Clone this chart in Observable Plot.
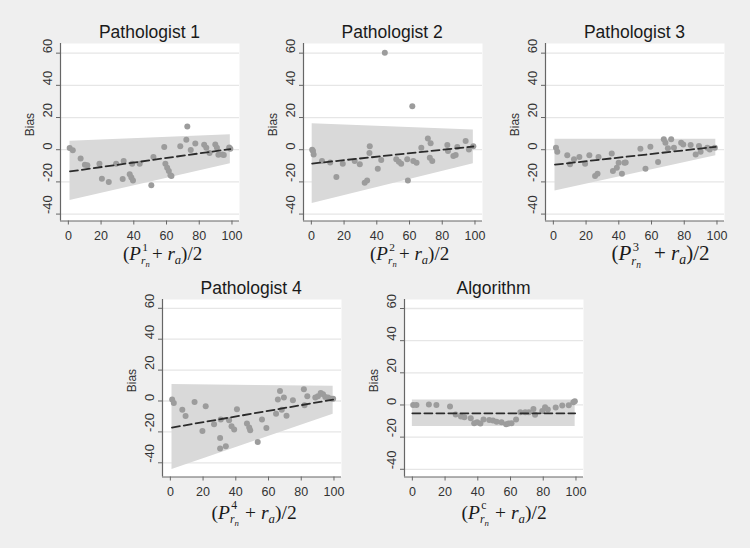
<!DOCTYPE html>
<html>
<head>
<meta charset="utf-8">
<script src="https://cdn.jsdelivr.net/npm/d3@7"></script>
<script src="https://cdn.jsdelivr.net/npm/@observablehq/plot@0.6"></script>
<style>
  html, body { margin: 0; padding: 0; background: #efefef; }
  #root { position: relative; width: 750px; height: 548px; background: #efefef; overflow: hidden; font-family: "Liberation Sans", Arial, sans-serif; }
  .panel { position: absolute; }
  .title { position: absolute; font-size: 17.5px; color: #1a1a1a; white-space: nowrap; transform: translate(-50%, -50%); }
  .xlab { position: absolute; font-family: "Liberation Serif", "DejaVu Serif", serif; color: #1a1a1a; white-space: nowrap; line-height: 1; }
  .xlab i { font-style: italic; }
  .ss { display: inline-block; position: relative; width: 0.58em; height: 0; vertical-align: baseline; }
  .ss .up { position: absolute; left: 0.12em; top: -1.304em; font-size: 0.6em; line-height: 0.5; }
  .ss .dn { position: absolute; left: 0; top: -0.171em; font-size: 0.6em; line-height: 0.5; }
  .ss .dn .n { font-size: 0.75em; vertical-align: -0.3em; }
  .sa { font-size: 0.66em; vertical-align: -0.28em; line-height: 0.5; }
</style>
</head>
<body>
<div id="root"></div>
<script>
// ---- Data ----
const titles = ["Pathologist 1", "Pathologist 2", "Pathologist 3", "Pathologist 4", "Algorithm"];
const superscripts = ["1", "2", "3", "4", "c"];
const xTicks = [0, 20, 40, 60, 80, 100];
const yTicks = [-40, -20, 0, 20, 40, 60];

const p1x = [0.8, 2.7, 7.5, 10.1, 11.6, 19.0, 20.5, 24.7, 29.2, 33.2, 33.8, 37.5, 38.5, 39.5, 39.0, 43.6, 50.7, 52.0, 58.6, 59.3, 60.4, 61.4, 62.4, 63.0, 68.4, 72.1, 72.7, 74.8, 77.6, 83.0, 84.3, 86.3, 89.8, 90.8, 91.7, 94.0, 95.0, 98.3, 99.0];
const p1y = [1.0, -0.3, -5.5, -9.3, -9.6, -8.7, -18.0, -20.0, -8.8, -18.2, -7.0, -15.2, -17.3, -19.2, -8.7, -8.7, -22.1, -4.6, 1.7, -8.7, -11.2, -13.3, -15.8, -16.4, 2.1, 6.2, 14.5, -0.2, 3.8, 3.1, 1.2, -2.0, 3.3, 1.2, -3.1, -2.9, -3.3, 1.4, 0.6];
const p2x = [0.5, 1.0, 1.4, 6.5, 11.5, 15.3, 19.2, 26.5, 29.6, 32.6, 34.1, 35.5, 35.7, 40.6, 42.7, 44.9, 51.9, 53.5, 54.9, 58.6, 59.0, 61.7, 62.3, 64.3, 67.2, 71.2, 72.4, 72.9, 73.9, 83.1, 83.5, 86.8, 88.2, 89.2, 94.3, 96.3, 99.0];
const p2y = [0.0, -0.8, -2.9, -7.0, -8.0, -17.0, -8.7, -7.0, -9.1, -20.5, -19.1, -2.1, 2.1, -11.8, -6.4, 60.2, -6.0, -7.5, -8.7, -6.0, -19.1, 27.0, -7.0, -8.1, 1.2, 6.9, -5.0, 4.0, -7.0, 2.9, -0.8, -3.9, -3.3, 1.7, 5.4, 0.2, 2.1];
const p3x = [1.6, 2.4, 8.5, 10.2, 12.6, 15.9, 19.4, 22.0, 25.5, 27.0, 27.6, 35.7, 36.4, 38.8, 39.9, 41.9, 43.4, 44.2, 53.2, 56.3, 59.3, 64.0, 67.5, 68.5, 70.0, 72.0, 73.7, 78.1, 79.4, 83.9, 87.0, 89.0, 90.0, 94.1, 95.6, 98.7];
const p3y = [1.2, -1.2, -3.5, -9.1, -6.0, -4.5, -8.7, -3.5, -16.4, -15.0, -4.5, -2.3, -13.3, -11.2, -8.1, -15.0, -8.1, -7.9, 0.6, -11.8, 1.9, -7.7, 6.5, 4.4, 0.9, 6.5, 1.2, 4.4, 3.3, 2.9, -2.9, 2.3, -1.2, 1.2, 0.2, 1.2];
const p4x = [1.1, 2.1, 7.3, 9.3, 14.8, 19.6, 21.6, 26.7, 30.4, 30.4, 30.8, 33.9, 35.9, 37.4, 39.0, 40.7, 46.8, 48.2, 48.8, 53.4, 56.0, 58.7, 64.6, 65.7, 67.0, 68.1, 69.4, 71.0, 74.9, 81.6, 82.0, 83.7, 88.6, 90.2, 91.9, 93.3, 94.7, 96.4, 98.4, 99.5];
const p4y = [0.9, -1.3, -5.6, -9.7, -0.6, -19.4, -3.4, -15.0, -23.9, -30.8, -12.0, -29.3, -12.5, -16.4, -18.5, -5.4, -14.6, -17.2, -19.0, -26.6, -12.0, -17.5, -8.2, 0.9, 6.5, -5.6, 2.2, -9.5, 0.5, 7.6, -2.8, 3.0, 2.2, 3.0, 5.2, 4.3, 2.6, 2.2, 1.5, 1.5];
const p5x = [0.5, 2.5, 10.1, 14.7, 23.0, 26.5, 29.7, 31.8, 35.7, 37.8, 39.6, 41.6, 43.5, 47.0, 49.3, 51.5, 54.5, 57.3, 58.8, 60.6, 63.4, 66.0, 69.0, 71.2, 74.0, 75.0, 79.4, 81.1, 82.8, 87.6, 91.6, 95.6, 98.4, 99.3];
const p5y = [0.0, 0.0, 0.3, 0.0, -1.0, -5.9, -7.1, -7.6, -8.2, -11.4, -10.8, -11.6, -9.0, -9.3, -9.7, -10.5, -10.8, -12.0, -11.6, -11.4, -9.0, -4.5, -4.6, -4.6, -2.5, -6.1, -3.7, -1.4, -2.8, -1.5, -0.4, -0.2, 1.7, 2.3];

// Limits of agreement band and fitted (dashed) line, at the two ends of the data range
const bandX  = [[1, 99], [0.5, 99], [1, 99.3], [1, 99.5], [0, 99.5]];
const bandLo = [[-31.5, -8.8], [-33.4, -8.7], [-25.7, -3.7], [-44.4, -8.6], [-13.4, -13.4]];
const bandHi = [[5.3, 9.3], [16.2, 12.2], [6.5, 6.5], [10.6, 9.5], [3.1, 3.1]];
const fitY   = [[-13.5, 0.4], [-8.6, 2.0], [-9.3, 1.8], [-17.2, 0.9], [-5.2, -5.2]];

const xs = [p1x, p2x, p3x, p4x, p5x];
const ys = [p1y, p2y, p3y, p4y, p5y];

// ---- Layout ----
const yDomains = [[-44.3, 66], [-44.3, 66], [-44.3, 66], [-49.2, 65.7], [-44.8, 65.6]];
const frameLeft = [60, 302.7, 545, 161.7, 404];
const frameTop = [43, 43, 43, 299.3, 299.3];
const frameW = 179, frameH = 177.5;
const mL = 45, mR = 6, mT = 6, mB = 28;
const labelLeft = [123, 370, 611.5, 211.5, 461.5];
const labelBase = [260, 260, 261, 519, 519];
const labelSize = [19, 19, 21, 19.5, 19.5];
const labelSpacing = ["", "", "&ensp;", "&thinsp;", "&thinsp;"];

const root = document.getElementById("root");

for (let i = 0; i < 5; i++) {
  const pts = xs[i].map((x, j) => ({x, y: ys[i][j]}));
  const band = bandX[i].map((x, j) => ({x, lo: bandLo[i][j], hi: bandHi[i][j], fit: fitY[i][j]}));
  const yd = yDomains[i];
  const chart = Plot.plot({
    width: mL + frameW + mR,
    height: mT + frameH + mB,
    marginLeft: mL, marginRight: mR, marginTop: mT, marginBottom: mB,
    x: {domain: [-4.8, 104.6]},
    y: {domain: yd},
    style: {background: "transparent", overflow: "visible", fontFamily: "Liberation Sans, Arial, sans-serif", color: "#333"},
    marks: [
      Plot.frame({fill: "white", stroke: null}),
      Plot.gridY(yTicks, {stroke: "#e6e6e6", strokeOpacity: 1, strokeWidth: 1.3}),
      Plot.areaY(band, {x: "x", y1: "lo", y2: "hi", fill: "#d9d9d9"}),
      Plot.dot(pts, {x: "x", y: "y", r: 3, fill: "#9c9c9c", stroke: null}),
      Plot.line(band, {x: "x", y: "fit", stroke: "#2b2b2b", strokeWidth: 1.8, strokeDasharray: "8,4"}),
      Plot.ruleX([-4.8], {stroke: "#666", strokeWidth: 1.2}),
      Plot.ruleY([yd[0]], {stroke: "#666", strokeWidth: 1.2}),
      Plot.axisX({ticks: xTicks, tickSize: 4, tickPadding: 6, fontSize: 12.5, label: null, stroke: "#666"}),
      Plot.axisY({ticks: yTicks, tickSize: 4, tickFormat: () => "", label: null, stroke: "#666"}),
      Plot.text(yTicks, {y: d => d, text: d => String(d), frameAnchor: "left", dx: -12.5, rotate: -90, fontSize: 13, fill: "#333"}),
      Plot.text(["Bias"], {frameAnchor: "left", dx: -30, dy: 4, rotate: -90, fontSize: 12, fill: "#333"})
    ]
  });
  chart.classList.add("panel");
  chart.style.left = (frameLeft[i] - mL) + "px";
  chart.style.top = (frameTop[i] - mT) + "px";
  root.appendChild(chart);

  const t = document.createElement("div");
  t.className = "title";
  t.textContent = titles[i];
  t.style.left = (frameLeft[i] + frameW / 2) + "px";
  t.style.top = (frameTop[i] - 11) + "px";
  root.appendChild(t);

  const lab = document.createElement("div");
  lab.className = "xlab";
  const sp = labelSpacing[i];
  lab.innerHTML = `(<i>P</i><span class="ss"><span class="up">${superscripts[i]}</span><span class="dn"><i>r</i><i class="n">n</i></span></span>${sp}+ <i>r</i><i class="sa">a</i>)/2`;
  lab.style.fontSize = labelSize[i] + "px";
  lab.style.left = labelLeft[i] + "px";
  lab.style.top = (labelBase[i] - 0.8375 * labelSize[i]) + "px";
  root.appendChild(lab);
}
</script>
</body>
</html>
